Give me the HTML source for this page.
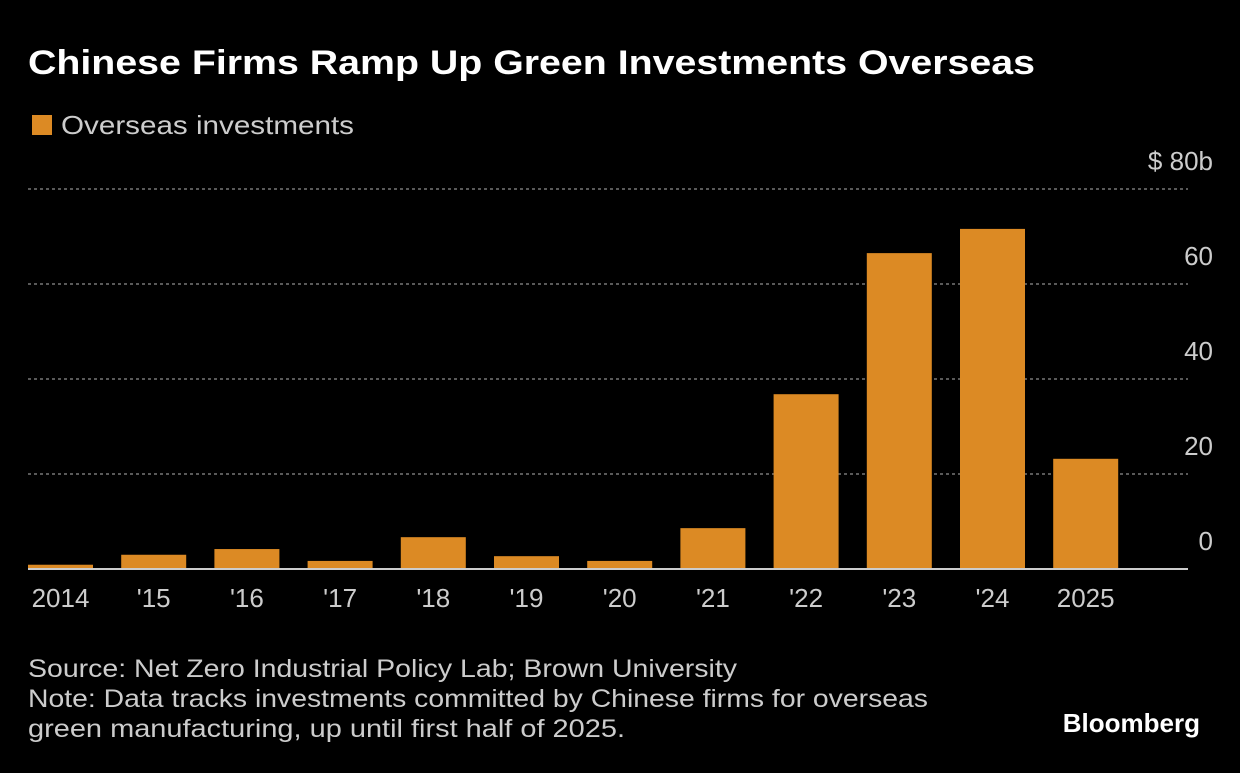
<!DOCTYPE html>
<html><head><meta charset="utf-8"><style>
body{margin:0;background:#000;width:1240px;height:768px;overflow:hidden;font-family:"Liberation Sans",sans-serif;color:#fff}
</style></head><body>
<svg width="1240" height="768">
<text x="28" y="74" font-size="34" font-weight="bold" fill="#fff" textLength="1007" lengthAdjust="spacingAndGlyphs">Chinese Firms Ramp Up Green Investments Overseas</text>
<rect x="32" y="115" width="20" height="20" fill="#dc8a24"/>
<text x="61" y="134" font-size="26" fill="#ccc" textLength="293" lengthAdjust="spacingAndGlyphs">Overseas investments</text>
<g id="grid"></g><g id="bars"></g><g id="xl"></g>
<line x1="28" x2="1188" y1="569" y2="569" stroke="#ccc" stroke-width="2"/>
<text x="28" y="677" font-size="25" fill="#ccc" textLength="709" lengthAdjust="spacingAndGlyphs">Source: Net Zero Industrial Policy Lab; Brown University</text>
<text x="28" y="707" font-size="25" fill="#ccc" textLength="900" lengthAdjust="spacingAndGlyphs">Note: Data tracks investments committed by Chinese firms for overseas</text>
<text x="28" y="737" font-size="25" fill="#ccc" textLength="597" lengthAdjust="spacingAndGlyphs">green manufacturing, up until first half of 2025.</text>
<text x="1200" y="732" font-size="26" font-weight="bold" fill="#fff" text-anchor="end">Bloomberg</text>
</svg>
<script>
const categories=["2014","'15","'16","'17","'18","'19","'20","'21","'22","'23","'24","2025"];
const values=[0.9,3.0,4.2,1.7,6.7,2.7,1.7,8.6,36.8,66.5,71.6,23.2];
const ticks=[0,20,40,60,80];
const tickLabels=["0","20","40","60","$ 80b"];
const NS="http://www.w3.org/2000/svg";
const y=v=>569-v*380/80;
const x0=28,step=93.2,bw=65;
const xc=i=>x0+bw/2+i*step;
const g=document.getElementById('grid');
ticks.forEach((t,i)=>{
 if(t>0){const l=document.createElementNS(NS,'line');
 l.setAttribute('x1',28);l.setAttribute('x2',1188);l.setAttribute('y1',y(t));l.setAttribute('y2',y(t));
 l.setAttribute('stroke','#777');l.setAttribute('stroke-width','1.5');l.setAttribute('stroke-dasharray','3,3');
 
 
 g.appendChild(l);}
 const tx=document.createElementNS(NS,'text');
 tx.setAttribute('x',1213);tx.setAttribute('y',y(t)-19);tx.setAttribute('text-anchor','end');
 tx.setAttribute('font-size','26');tx.setAttribute('fill','#ccc');tx.textContent=tickLabels[i];
 
 
 g.appendChild(tx);
});
const b=document.getElementById('bars'),xl=document.getElementById('xl');
values.forEach((v,i)=>{
 const r=document.createElementNS(NS,'rect');
 r.setAttribute('x',xc(i)-bw/2);r.setAttribute('width',bw);r.setAttribute('y',y(v));r.setAttribute('height',569-y(v));
 r.setAttribute('fill','#dc8a24');
 
 
 b.appendChild(r);
 const t=document.createElementNS(NS,'text');
 t.setAttribute('x',xc(i));t.setAttribute('y',607);t.setAttribute('text-anchor','middle');
 t.setAttribute('font-size','26');t.setAttribute('fill','#ccc');t.textContent=categories[i];
 
 
 xl.appendChild(t);
});
</script>
</body></html>
